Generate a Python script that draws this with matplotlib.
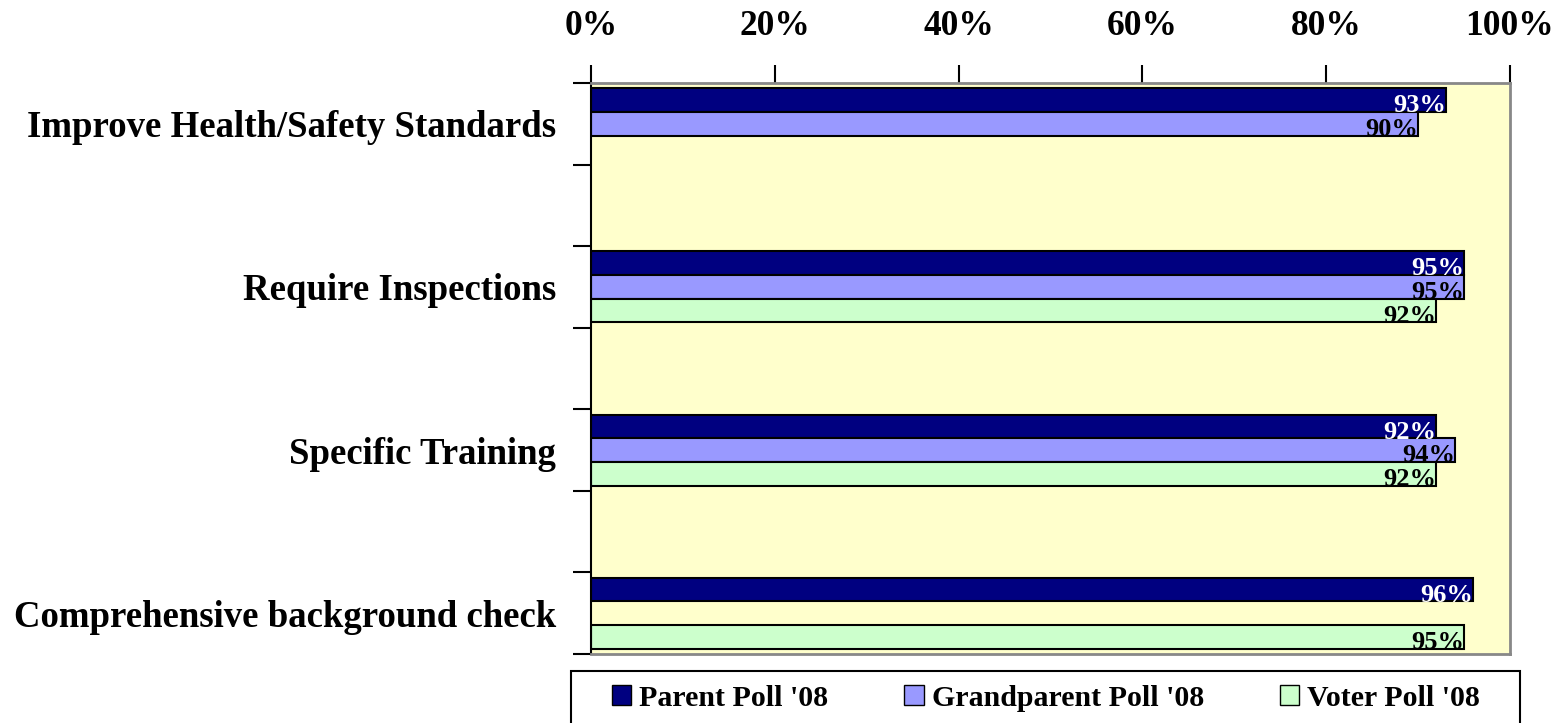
import numpy as np
import matplotlib.pyplot as plt
from matplotlib.patches import Patch, Rectangle

plt.rcParams['font.family'] = ['Liberation Serif', 'DejaVu Serif']
plt.rcParams['font.weight'] = 'bold'

categories = ["Improve Health/Safety Standards", "Require Inspections",
              "Specific Training", "Comprehensive background check"]
series = ["Parent Poll '08", "Grandparent Poll '08", "Voter Poll '08"]
parent = [93, 95, 92, 96]
grandparent = [90, 95, 94, np.nan]
voter = [np.nan, 92, 92, 95]
xticks = [0, 20, 40, 60, 80, 100]

colors = ["#000080", "#9999FF", "#CCFFCC"]
label_colors = ["white", "black", "black"]

fig = plt.figure(figsize=(15.61, 7.23), dpi=100)
ax = fig.add_axes([591 / 1561, 1 - 654 / 723, 919 / 1561, 571 / 723])
ax.set_facecolor("#FFFFCC")

# each category sits in every other slot, empty slots between them
centers = np.arange(len(categories)) * 2
h = 0.29
offsets = [-h, 0, h]

for k, vals in enumerate([parent, grandparent, voter]):
    y = centers + offsets[k]
    v = np.array(vals, dtype=float)
    ok = ~np.isnan(v)
    ax.barh(y[ok], v[ok], height=h, color=colors[k], edgecolor="black", linewidth=1.5)
    for yy, vv in zip(y[ok], v[ok]):
        ax.text(vv, yy + 0.07, f"{vv:.0f}%", ha="right", va="center",
                color=label_colors[k], fontsize=19, fontweight="bold")

ax.set_xlim(0, 100)
ax.set_ylim(6.5, -0.5)
ax.xaxis.tick_top()
ax.set_xticks(xticks)
ax.set_xticklabels([f"{t}%" for t in xticks], fontsize=25.5, fontweight="bold")
ax.tick_params(axis="x", direction="out", length=13, width=1.5, pad=16)

ax.set_yticks(centers)
ax.set_yticklabels(categories, fontsize=26.5, fontweight="bold")
ax.set_yticks(np.arange(-0.5, 7.0, 1.0), minor=True)
ax.tick_params(axis="y", which="major", length=0, pad=25)
ax.tick_params(axis="y", which="minor", direction="out", length=13, width=1.5)

ax.spines["left"].set_color("black")
ax.spines["left"].set_linewidth(1.5)
for s in ["top", "right", "bottom"]:
    ax.spines[s].set_color("#888888")
    ax.spines[s].set_linewidth(2)

# legend box drawn separately so the entries can sit with wide margins
fig.patches.append(Rectangle((571 / 1561, -0.01), 949 / 1561, 1 - 671 / 723 + 0.01,
                             transform=fig.transFigure, facecolor="white",
                             edgecolor="black", linewidth=1.5, zorder=0))
handles = [Patch(facecolor=c, edgecolor="black", linewidth=1) for c in colors]
leg = fig.legend(handles, series, loc="center left", ncol=3,
                 bbox_to_anchor=(606 / 1561, 1 - 698 / 723),
                 frameon=False,
                 prop={"family": "Liberation Serif", "weight": "bold", "size": 21.5},
                 handlelength=0.65, handleheight=0.65, handletextpad=0.26,
                 columnspacing=2.55, borderaxespad=0, borderpad=0.2)

fig.savefig("out.png", dpi=100)
